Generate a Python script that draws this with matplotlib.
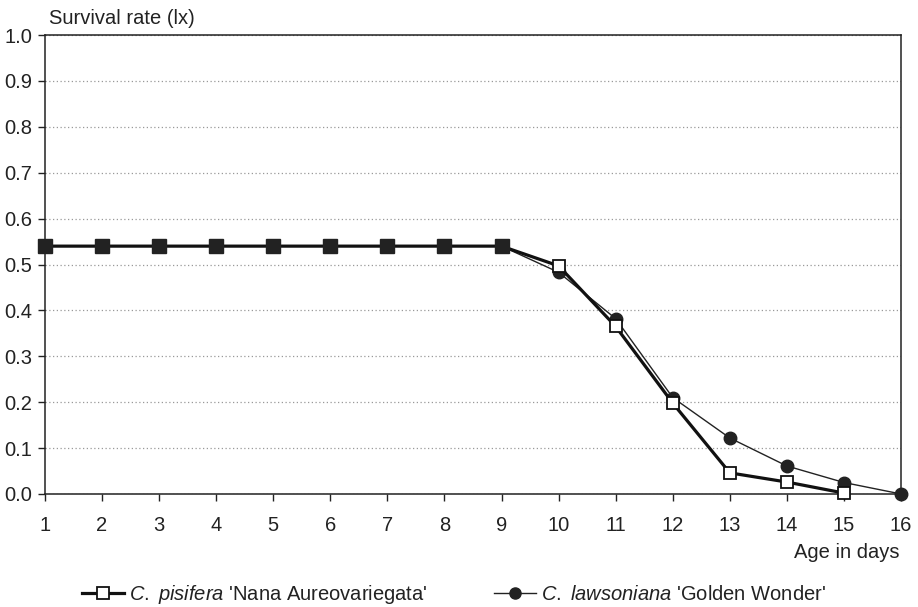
import matplotlib.pyplot as plt
import numpy as np
from matplotlib.lines import Line2D

plt.rcParams['font.family'] = ['Liberation Sans', 'DejaVu Sans']
plt.rcParams['mathtext.fontset'] = 'custom'
plt.rcParams['mathtext.rm'] = 'Liberation Sans'
plt.rcParams['mathtext.it'] = 'Liberation Sans:italic'

# data
days = list(range(1, 17))
pisifera_days = list(range(1, 16))
pisifera = [0.54, 0.54, 0.54, 0.54, 0.54, 0.54, 0.54, 0.54, 0.54,
            0.497, 0.365, 0.198, 0.046, 0.026, 0.002]
lawsoniana = [0.54, 0.54, 0.54, 0.54, 0.54, 0.54, 0.54, 0.54, 0.54,
              0.483, 0.382, 0.210, 0.122, 0.061, 0.025, 0.0]
yticks = [0.0, 0.1, 0.2, 0.3, 0.4, 0.5, 0.6, 0.7, 0.8, 0.9, 1.0]

fig = plt.figure(figsize=(9.18, 6.07), dpi=100)
ax = fig.add_axes([0.049, 0.1862, 0.9325, 0.7561])

fs = 14.5

# thin line, black circles
ax.plot(days, lawsoniana, color='#222222', lw=1.0, marker='o', ms=9,
        mfc='#222222', mec='#222222', zorder=3, clip_on=False)
# thick line, open squares
ax.plot(pisifera_days, pisifera, color='#111111', lw=2.3, zorder=4,
        clip_on=False)
p = np.array(pisifera)
l = np.array(lawsoniana[:len(pisifera)])
same = np.isclose(p, l)
x = np.array(pisifera_days)
ax.plot(x[~same], p[~same], ls='none', marker='s', ms=9, mfc='white',
        mec='#111111', mew=1.3, zorder=5, clip_on=False)
ax.plot(x[same], p[same], ls='none', marker='s', ms=9.5, mfc='#222222',
        mec='#222222', zorder=5, clip_on=False)

ax.set_xlim(1, 16)
ax.set_ylim(0, 1.0)
ax.set_xticks(days)
ax.set_yticks(yticks)
ax.set_yticklabels([f'{v:.1f}' for v in yticks])
ax.tick_params(axis='both', direction='out', length=5, width=1,
               labelsize=fs, color='#222222', labelcolor='#222222')
ax.tick_params(axis='x', pad=11)
ax.tick_params(axis='y', pad=4)
ax.yaxis.grid(True, ls=(0, (1, 2)), color='#999999', lw=0.9)
ax.set_axisbelow(True)
for s in ax.spines.values():
    s.set_linewidth(1.1)
    s.set_color('#222222')

fig.text(49 / 918, 1 - 18 / 607, 'Survival rate (lx)', fontsize=fs,
         ha='left', va='center', color='#222222')
fig.text(899 / 918, 1 - 552 / 607, 'Age in days', fontsize=fs,
         ha='right', va='center', color='#222222')

h1 = Line2D([], [], color='#111111', lw=2.3, marker='s', ms=8, mfc='white',
            mec='#111111', mew=1.3)
h2 = Line2D([], [], color='#222222', lw=1.0, marker='o', ms=8,
            mfc='#222222', mec='#222222')
leg = fig.legend([h1, h2],
                 [r"$\mathit{C.\ pisifera}$ 'Nana Aureovariegata'",
                  r"$\mathit{C.\ lawsoniana}$ 'Golden Wonder'"],
                 loc='center left', bbox_to_anchor=(82 / 918, 1 - 595 / 607),
                 ncol=2, frameon=False, fontsize=fs, handlelength=2.1,
                 handletextpad=0.25, columnspacing=3.3, borderaxespad=0,
                 borderpad=0)
for t in leg.get_texts():
    t.set_color('#222222')

fig.savefig('out.png', dpi=100)
